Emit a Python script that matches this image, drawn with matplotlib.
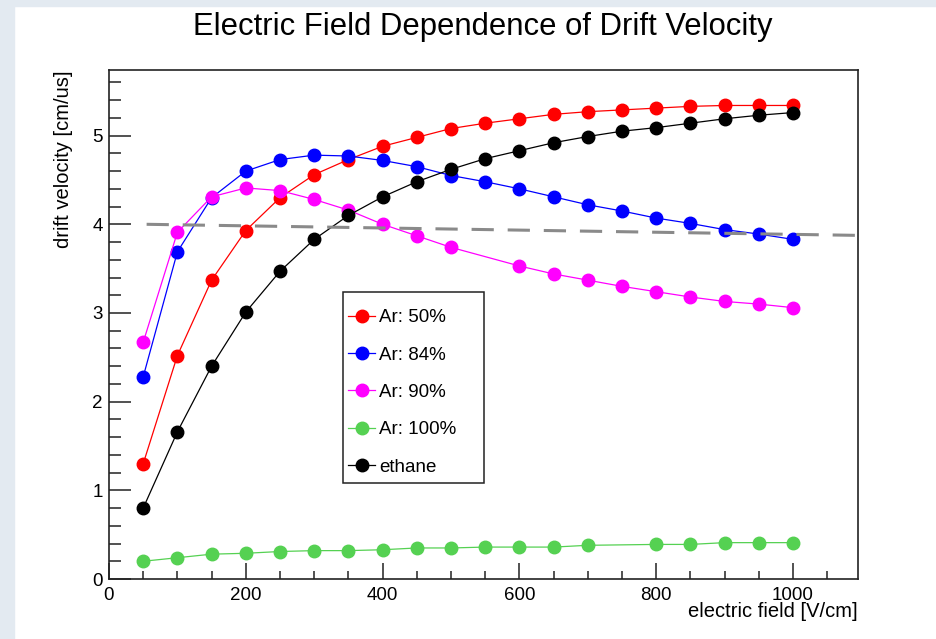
import numpy as np
import matplotlib
matplotlib.use("Agg")
import matplotlib.pyplot as plt
from matplotlib.patches import Rectangle

plt.rcParams['font.family'] = ['Liberation Sans', 'DejaVu Sans']
plt.rcParams['lines.scale_dashes'] = False

# electric field [V/cm]
field = [50, 100, 150, 200, 250, 300, 350, 400, 450, 500,
         550, 600, 650, 700, 750, 800, 850, 900, 950, 1000]
field_ar90 = [50, 100, 150, 200, 250, 300, 350, 400, 450, 500,
              600, 650, 700, 750, 800, 850, 900, 950, 1000]
field_ar100 = [50, 100, 150, 200, 250, 300, 350, 400, 450, 500,
               550, 600, 650, 700, 800, 850, 900, 950, 1000]

# drift velocity [cm/us]
ar50 = [1.30, 2.52, 3.37, 3.93, 4.30, 4.56, 4.73, 4.88, 4.98, 5.08,
        5.14, 5.19, 5.24, 5.27, 5.29, 5.31, 5.33, 5.34, 5.34, 5.34]
ar84 = [2.28, 3.69, 4.30, 4.60, 4.73, 4.78, 4.77, 4.72, 4.65, 4.55,
        4.48, 4.40, 4.31, 4.22, 4.15, 4.07, 4.01, 3.94, 3.89, 3.83]
ar90 = [2.67, 3.91, 4.31, 4.41, 4.38, 4.28, 4.16, 4.00, 3.87, 3.74,
        3.53, 3.44, 3.37, 3.30, 3.24, 3.18, 3.13, 3.10, 3.06]
ar100 = [0.20, 0.24, 0.28, 0.29, 0.31, 0.32, 0.32, 0.33, 0.35, 0.35,
         0.36, 0.36, 0.36, 0.38, 0.39, 0.39, 0.41, 0.41, 0.41]
ethane = [0.80, 1.66, 2.40, 3.01, 3.47, 3.83, 4.10, 4.31, 4.48, 4.62,
          4.74, 4.83, 4.92, 4.99, 5.05, 5.09, 5.14, 5.19, 5.23, 5.26]

# reference line
ref_x = [55, 1095]
ref_y = [4.00, 3.875]

series = [
    (field, ar50, '#ff0000', 'Ar: 50%'),
    (field, ar84, '#0000ff', 'Ar: 84%'),
    (field_ar90, ar90, '#ff00ff', 'Ar: 90%'),
    (field_ar100, ar100, '#55d152', 'Ar: 100%'),
    (field, ethane, '#000000', 'ethane'),
]

fig = plt.figure(figsize=(9.37, 6.39), dpi=100)
fig.patch.set_facecolor('white')
# page border of the screenshot
bg = '#e3eaf1'
fig.patches.append(Rectangle((0, 0), 14 / 937, 1, transform=fig.transFigure, color=bg, zorder=0))
fig.patches.append(Rectangle((0, 1 - 6 / 639), 1, 6 / 639, transform=fig.transFigure, color=bg, zorder=0))

ax = fig.add_axes([109 / 937, 1 - 579 / 639, (858 - 109) / 937, (579 - 70) / 639])

for xs, ys, c, lab in series:
    ax.plot(xs, ys, '-', color=c, lw=0.9, marker='o', ms=9, mec=c, mfc=c, label=lab)

ax.plot(ref_x, ref_y, color='#8a8a8a', lw=2.2, dashes=(16, 10))

ax.set_xlim(0, 1095)
ax.set_ylim(0, 5.74)
ax.set_xticks([0, 200, 400, 600, 800, 1000])
ax.set_xticks(np.arange(50, 1095, 50), minor=True)
ax.set_yticks([0, 1, 2, 3, 4, 5])
ax.set_yticks(np.arange(0.2, 5.74, 0.2), minor=True)

ax.tick_params(axis='both', which='both', direction='in', labelsize=13.5, width=1.1, color='#222222')
ax.tick_params(axis='x', which='major', length=11.5, pad=5.5)
ax.tick_params(axis='x', which='minor', length=6)
ax.tick_params(axis='y', which='major', length=16, pad=4.5)
ax.tick_params(axis='y', which='minor', length=8.6)
for s in ax.spines.values():
    s.set_linewidth(1.2)
    s.set_color('#222222')

ax.set_xlabel('electric field [V/cm]', fontsize=14.5, loc='right')
ax.xaxis.set_label_coords(1.0, -0.045)
ax.set_ylabel('drift velocity [cm/us]', fontsize=14.5, loc='top')
ax.yaxis.set_label_coords(-0.048, 1.0)

fig.text(483 / 937, 1 - 27 / 639, 'Electric Field Dependence of Drift Velocity',
         fontsize=22.3, ha='center', va='center')

leg = ax.legend(loc='upper left', bbox_to_anchor=((348 - 109) / 749, (579 - 309) / 509),
                frameon=False, borderpad=0, borderaxespad=0, fontsize=13.5,
                handlelength=1.45, handletextpad=0.22, labelspacing=1.08, numpoints=1)
ax.add_patch(Rectangle(((343 - 109) / 749, (579 - 483) / 509), 141 / 749, 191 / 509,
                       transform=ax.transAxes, fill=False, edgecolor='#222222', lw=1.1, zorder=5))

fig.savefig('out.png', dpi=100)
